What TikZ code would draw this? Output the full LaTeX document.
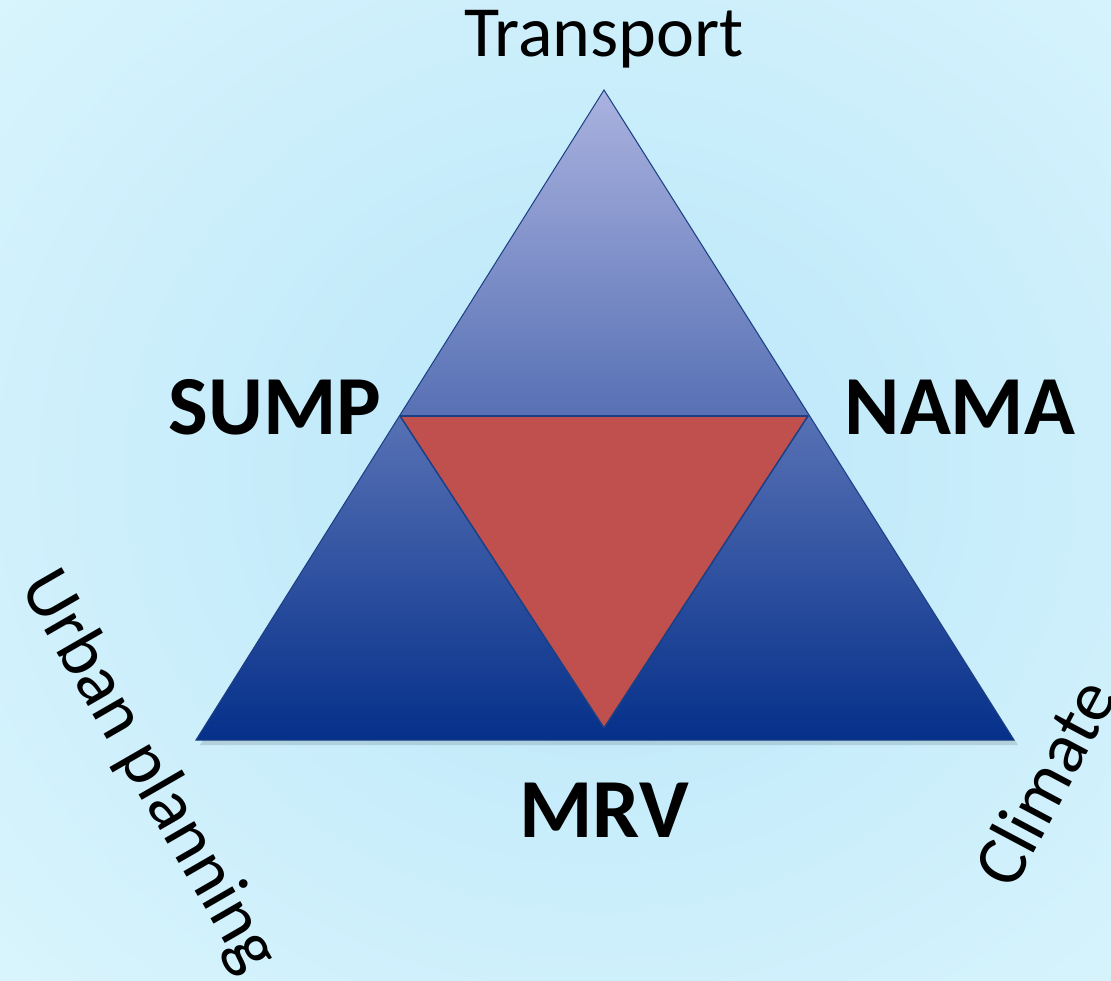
\documentclass[tikz,border=0pt]{standalone}
\usepackage{fontspec}
\setmainfont{Carlito}
\usetikzlibrary{positioning,calc}
\definecolor{bginner}{HTML}{B9E6F9}
\definecolor{bgouter}{HTML}{DCF6FD}
\definecolor{tritop}{HTML}{AAB2DF}
\definecolor{trimid}{HTML}{7882B8}
\definecolor{tribot}{HTML}{05308A}
\definecolor{edgeblue}{HTML}{1A3F85}
\definecolor{redfill}{HTML}{C0504D}
\tikzset{biglabel/.style={font=\fontsize{72}{86}\selectfont,inner sep=0pt},
         boldlabel/.style={font=\bfseries\fontsize{84}{100}\selectfont,inner sep=0pt}}
\begin{document}
\begin{tikzpicture}[x=1pt,y=-1pt]
      % 背景
      \useasboundingbox (0,0) rectangle (1111,981);
      \shade[inner color=bginner,outer color=bgouter] (-300,-350) rectangle (1500,1300);

      % 頂点の定義
      \coordinate (top) at (604,90);
      \coordinate (bl) at (196,740);
      \coordinate (br) at (1014,740);
      \coordinate (il) at (400,416);
      \coordinate (ir) at (808,416);
      \coordinate (ib) at (604,728);

      % 三角形
      \fill[black,opacity=0.12] ($(bl)+(4,5)$) -- ($(br)+(4,5)$) -- ($(top)+(4,5)$) -- cycle;
      \shade[top color=tritop,middle color=trimid,bottom color=tribot,draw=edgeblue,line width=1pt]
        (top) -- (bl) -- (br) -- cycle;
      \draw[edgeblue,line width=1.5pt] (il) -- (ir);
      \fill[redfill,draw=edgeblue,line width=1.5pt,line join=round] (il) -- (ir) -- (ib) -- cycle;

      % ラベル
      \node[biglabel] (transport) at (604,39) {Transport};
      \node[boldlabel] (sump) at (275,407) {SUMP};
      \node[boldlabel] (nama) at (960,407) {NAMA};
      \node[boldlabel] (mrv) at (604,810) {MRV};
      \node[biglabel,rotate=-60] (urban) at (148,772) {Urban planning};
      \node[biglabel,rotate=62] (climate) at (1044,782) {Climate};
    \end{tikzpicture}
\end{document}
